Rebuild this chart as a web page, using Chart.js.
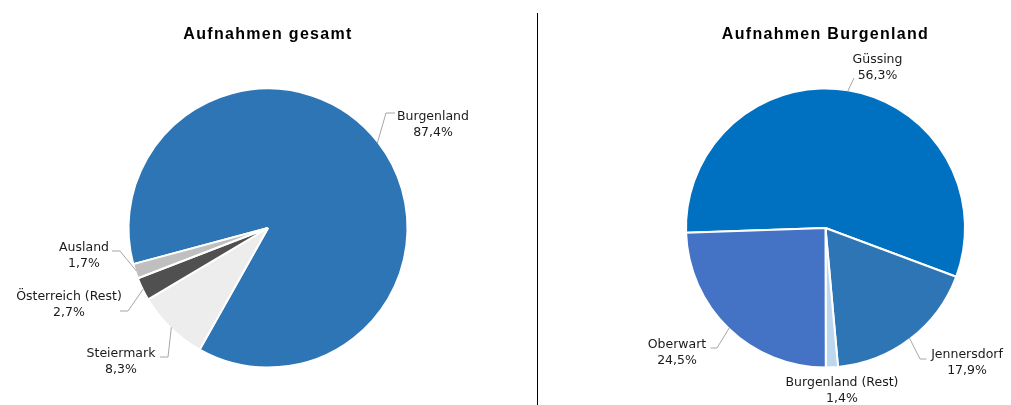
<!DOCTYPE html>
<html lang="de">
<head>
<meta charset="utf-8">
<title>Aufnahmen</title>
<script src="https://cdn.jsdelivr.net/npm/chart.js@4/dist/chart.umd.min.js"></script>
<style>
  html, body { margin: 0; padding: 0; background: #fff; }
  #wrap { position: relative; width: 1011px; height: 405px; overflow: hidden; }
  #left  { position: absolute; left: 0;     top: 0; }
  #right { position: absolute; left: 538px; top: 0; }
  #divider { position: absolute; left: 537px; top: 13px; width: 1px; height: 392px; background: #000; }
</style>
</head>
<body>
<div id="wrap">
  <canvas id="left" width="537" height="405"></canvas>
  <div id="divider"></div>
  <canvas id="right" width="473" height="405"></canvas>
</div>
<script>
"use strict";

// ── Data ───────────────────────────────────────────────────────────────────
const totalTitle   = "Aufnahmen gesamt";
const totalLabels  = ["Burgenland", "Steiermark", "Österreich (Rest)", "Ausland"];
const totalValues  = [87.4, 8.3, 2.7, 1.7];

const bgldTitle    = "Aufnahmen Burgenland";
const bgldLabels   = ["Güssing", "Jennersdorf", "Burgenland (Rest)", "Oberwart"];
const bgldValues   = [56.3, 17.9, 1.4, 24.5];

// ── Styles ─────────────────────────────────────────────────────────────────
const totalColors = ["#2E75B6", "#EDEDED", "#505050", "#BFBFBF"];
const bgldColors  = ["#0070C0", "#2E75B6", "#BDD7EE", "#4472C4"];

// label text centre + leader elbow/end, relative to the pie centre
const totalPlace = [
  { dx: 165,  dy: -111, elbow: [118, -115],  end: [127, -115] },
  { dx: -147, dy: 126,  elbow: [-100, 129],  end: [-108, 129] },
  { dx: -199, dy: 69,   elbow: [-140, 83],   end: [-148, 83] },
  { dx: -184, dy: 20,   elbow: [-148, 23],   end: [-156, 23] },
];
const bgldPlace = [
  { dx: 52,   dy: -168, elbow: [28.5, -150], end: [28.5, -150] },
  { dx: 141.5, dy: 127, elbow: [94.5, 131],  end: [101, 131] },
  { dx: 16.5, dy: 155 },
  { dx: -148.5, dy: 117, elbow: [-108.5, 120], end: [-115, 120] },
];

const pct = (v) => v.toFixed(1).replace(".", ",") + "%";

// ── Callouts + title ───────────────────────────────────────────────────────
const calloutPlugin = {
  id: "callouts",
  afterDatasetsDraw(chart, args, opts) {
    const ctx = chart.ctx;
    const meta = chart.getDatasetMeta(0);
    const values = chart.data.datasets[0].data;
    ctx.save();

    meta.data.forEach((arc, i) => {
      const p = arc.getProps(["x", "y", "startAngle", "endAngle", "outerRadius"], true);
      const place = opts.place[i];
      const mid = (p.startAngle + p.endAngle) / 2;
      const r = p.outerRadius - 1;

      if (place.elbow) {
        ctx.strokeStyle = "#A6A6A6";
        ctx.lineWidth = 1;
        ctx.beginPath();
        ctx.moveTo(p.x + Math.cos(mid) * r, p.y + Math.sin(mid) * r);
        ctx.lineTo(p.x + place.elbow[0], p.y + place.elbow[1]);
        ctx.lineTo(p.x + place.end[0], p.y + place.end[1]);
        ctx.stroke();
      }

      ctx.fillStyle = "#1a1a1a";
      ctx.font = '12.5px "DejaVu Sans", Verdana, sans-serif';
      ctx.textAlign = "center";
      ctx.textBaseline = "middle";
      ctx.fillText(chart.data.labels[i], p.x + place.dx, p.y + place.dy);
      ctx.fillText(pct(values[i]), p.x + place.dx, p.y + place.dy + 16);
    });

    const area = chart.chartArea;
    ctx.fillStyle = "#000";
    ctx.font = 'bold 16px "Liberation Sans", Arial, sans-serif';
    ctx.letterSpacing = "1.3px";
    ctx.textAlign = "center";
    ctx.textBaseline = "middle";
    ctx.fillText(opts.title, (area.left + area.right) / 2, 35);
    ctx.restore();
  },
};

function makePie(id, labels, values, colors, place, title, rotation, padding) {
  return new Chart(document.getElementById(id), {
    type: "pie",
    data: {
      labels,
      datasets: [{
        data: values,
        backgroundColor: colors,
        borderColor: "#fff",
        borderWidth: 2,
      }],
    },
    options: {
      responsive: false,
      animation: false,
      rotation,
      layout: { padding },
      plugins: {
        legend: { display: false },
        tooltip: { enabled: false },
        callouts: { place, title },
      },
    },
    plugins: [calloutPlugin],
  });
}

makePie("left", totalLabels, totalValues, totalColors, totalPlace, totalTitle, 255,
        { top: 87.5, bottom: 36.5, left: 0, right: 1 });
makePie("right", bgldLabels, bgldValues, bgldColors, bgldPlace, bgldTitle, 268,
        { top: 87.5, bottom: 36.5, left: 102, right: 0 });
</script>
</body>
</html>
